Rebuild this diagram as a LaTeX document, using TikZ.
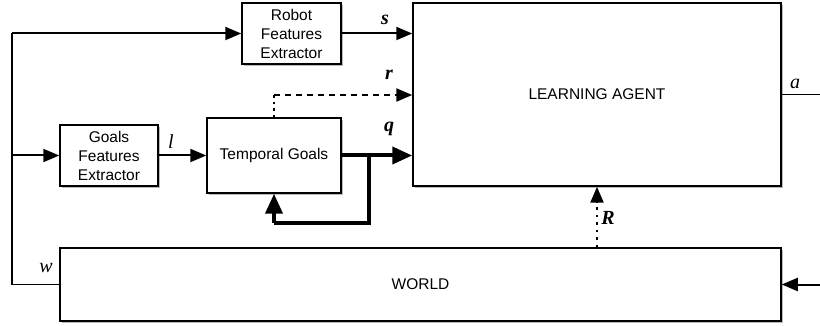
\documentclass[tikz,border=0pt]{standalone}
\usepackage{fontspec}
\setmainfont{Liberation Sans}
\newfontfamily\labfont{Liberation Serif}
\usetikzlibrary{arrows.meta,shadows}
\tikzset{
  blk/.style={draw=black, line width=1.5pt, fill=white, align=center, inner sep=0pt,
    font=\fontsize{15.5}{19}\selectfont,
    drop shadow={shadow xshift=1.5pt, shadow yshift=-1.8pt, fill=black!45, opacity=0.6}},
  tip/.style={-{Triangle[length=16pt,width=13pt]}},
  conn/.style={line width=2pt, tip},
  thinconn/.style={line width=1.8pt},
  qconn/.style={line width=4pt, -{Triangle[length=20pt,width=17pt]}},
  blab/.style={font=\labfont\fontsize{20}{20}\selectfont\bfseries\itshape, inner sep=0pt},
  ilab/.style={font=\labfont\fontsize{20}{20}\selectfont\itshape, inner sep=0pt},
}
\begin{document}
\begin{tikzpicture}[x=1pt,y=-1pt]
\useasboundingbox (0,0) rectangle (820,326);
% blocks
\node[blk, minimum width=99pt, minimum height=61pt] (robot) at (291.5,33.5) {Robot\\Features\\Extractor};
\node[blk, minimum width=368pt, minimum height=183pt] (agent) at (597,94.5) {LEARNING AGENT};
\node[blk, minimum width=98pt, minimum height=61pt] (goals) at (109,155.5) {Goals\\Features\\Extractor};
\node[blk, minimum width=134pt, minimum height=75pt] (temporal) at (274,155.5) {Temporal Goals};
\node[blk, minimum width=721pt, minimum height=73pt] (world) at (420.5,284.5) {WORLD};
% coordinates
\coordinate (wl) at (12,284.5);
\coordinate (tl) at (12,33.5);
\coordinate (gl) at (12,155.5);
\coordinate (loopa) at (369,155.5);
\coordinate (loopb) at (369,223);
\coordinate (loopc) at (274,223);
\coordinate (rup) at (274,95);
\coordinate (aout) at (820,94.5);
\coordinate (win) at (820,284.5);
% connectors
\draw[thinconn] (world.west) -- (wl) -- (tl);
\draw[conn] (tl) -- (robot.west);
\draw[conn] (gl) -- (goals.west);
\draw[conn] (goals.east) -- (temporal.west);
\draw[conn] (robot.east) -- (agent.west |- robot.east);
\draw[qconn] (temporal.east) -- (agent.west |- temporal.east);
\draw[line width=4pt] (loopa) -- (loopb) -- (loopc);
\draw[qconn] (loopc) -- (temporal.south);
\draw[line width=2.4pt, dash pattern=on 2.5pt off 4pt] (temporal.north) -- (rup);
\draw[line width=2.4pt, dash pattern=on 6pt off 5pt, tip] (rup) -- (agent.west |- rup);
\draw[line width=2.4pt, dash pattern=on 2.5pt off 5pt, tip] (world.north -| agent.south) -- (agent.south);
\draw[thinconn] (agent.east) -- (aout);
\draw[conn] (win) -- (world.east);
% labels
\node[blab] (ls) at (385,20) {s};
\node[blab] (lr) at (389,75) {r};
\node[blab] (lq) at (389,129) {q};
\node[ilab] (ll) at (171,142) {l};
\node[ilab] (lw) at (46,268) {w};
\node[ilab] (la) at (795,84) {a};
\node[blab] (lR) at (608,218) {R};
\end{tikzpicture}
\end{document}
